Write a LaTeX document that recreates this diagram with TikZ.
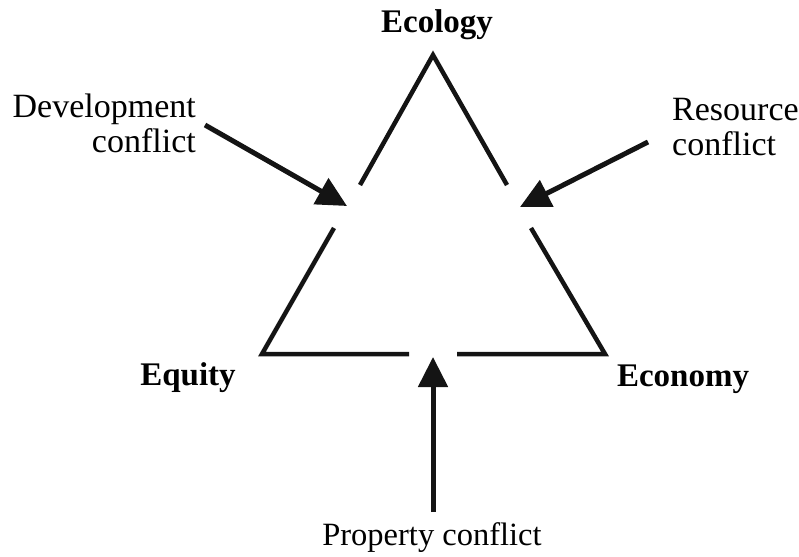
\documentclass[tikz,border=0pt]{standalone}
\usepackage{fontspec}
\setmainfont{Liberation Serif}
\usetikzlibrary{arrows.meta}
\begin{document}
\begin{tikzpicture}[x=1pt,y=-1pt,
  edge/.style={line width=4.5pt,line cap=butt,line join=miter,color=black!92},
  pointer/.style={line width=5pt,color=black!92,-{Triangle[length=30pt,width=29pt]}},
  lbl/.style={font=\fontsize{34}{35}\selectfont,inner sep=0pt},
  blbl/.style={inner sep=0pt,font=\fontsize{33}{37}\selectfont\bfseries,anchor=base}]
\useasboundingbox (0,0) rectangle (799,556);
% triangle corners and gap ends
\coordinate (top) at (433,55);
\coordinate (bl) at (262,354);
\coordinate (br) at (605,354);
\coordinate (l1) at (360,185);
\coordinate (l2) at (334,228);
\coordinate (r1) at (507,185);
\coordinate (r2) at (531,228);
\coordinate (b1) at (409,354);
\coordinate (b2) at (457,354);
\draw[edge] (l1) -- (top) -- (r1);
\draw[edge] (l2) -- (bl) -- (b1);
\draw[edge] (r2) -- (br) -- (b2);
% labels
\node[blbl] (eco) at (437,33) {Ecology};
\node[blbl] (equ) at (188,385) {Equity};
\node[blbl] (econ) at (683,386) {Economy};
\node[lbl,align=right,anchor=north east] (dev) at (196,93.5) {Development\\conflict};
\node[lbl,align=left,anchor=north west] (res) at (672,98) {Resource\\conflict};
\node[lbl,anchor=base,font=\fontsize{32.5}{35}\selectfont] (prop) at (432,545) {Property conflict};
% arrows
\coordinate (ds) at (205,125);
\coordinate (dt) at (347,206);
\coordinate (rs) at (648,142);
\coordinate (rt) at (520,207);
\coordinate (ps) at (433,512);
\coordinate (pt) at (433,357);
\draw[pointer] (ds) -- (dt);
\draw[pointer] (rs) -- (rt);
\draw[pointer] (ps) -- (pt);
\end{tikzpicture}
\end{document}
